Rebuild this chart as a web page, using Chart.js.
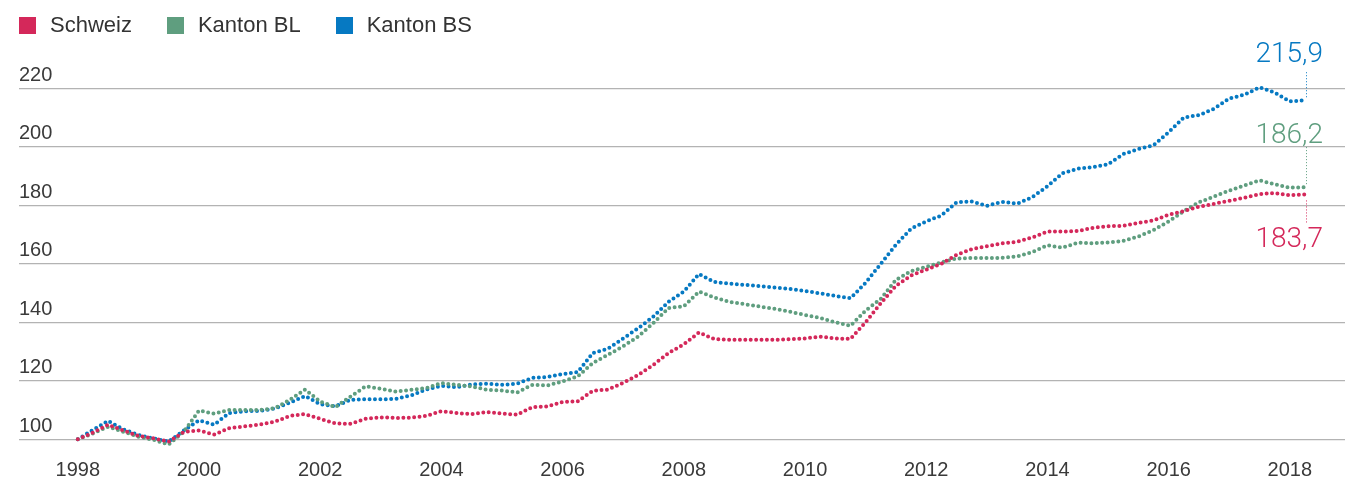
<!DOCTYPE html>
<html>
<head>
<meta charset="utf-8">
<script src="https://cdn.jsdelivr.net/npm/chart.js@4.4.0/dist/chart.umd.min.js"></script>
<style>
  html, body { margin: 0; padding: 0; background: #fff; }
  #wrap { position: relative; width: 1345px; height: 483px; }
  #legend { position: absolute; left: 19px; top: 12px; display: flex;
            font: 22px "Liberation Sans", Arial, sans-serif; color: #333; }
  .item { display: flex; align-items: center; margin-right: 35px; }
  .box { width: 17px; height: 17px; margin-right: 14px; }
</style>
</head>
<body>
<div id="wrap">
  <canvas id="chart" width="1345" height="483"></canvas>
  <div id="legend"></div>
</div>
<script>
// quarterly index values, Q1 1998 = 100, up to Q2 2018
const firstYear = 1998;
const seriesNames = ['Schweiz', 'Kanton BL', 'Kanton BS'];
const seriesColors = ['#d4285a', '#5f9e7f', '#0679c2'];
const endLabels = ['183,7', '186,2', '215,9'];

const schweiz = [
  100.0, 102.3, 105.0, 103.0, 101.2, 100.3, 99.2, 102.5, 103.0, 101.6,
  103.8, 104.4, 105.0, 106.0, 108.0, 108.6, 107.0, 105.4, 105.3, 107.0,
  107.5, 107.3, 107.4, 108.0, 109.6, 109.0, 108.6, 109.3, 108.8, 108.4,
  111.0, 111.2, 112.8, 113.0, 116.6, 117.0, 119.3, 122.0, 125.5, 129.5,
  132.5, 136.5, 134.3, 134.0, 134.0, 134.0, 134.0, 134.2, 134.5, 135.1,
  134.5, 134.3, 140.0, 146.5, 152.5, 156.0, 158.0, 160.0, 163.0, 165.0,
  166.0, 167.0, 167.5, 169.0, 171.0, 171.0, 171.2, 172.3, 172.8, 173.0,
  174.0, 174.8, 176.8, 178.0, 179.5, 180.5, 181.5, 182.6, 183.8, 184.2,
  183.4, 183.7
];
const kantonBL = [
  100.0, 102.0, 104.3, 102.6, 100.9, 99.8, 98.2, 102.6, 109.8, 108.8,
  110.0, 110.0, 110.0, 110.6, 113.5, 117.0, 112.9, 111.0, 114.6, 118.1,
  117.3, 116.3, 116.9, 117.5, 119.2, 118.6, 118.1, 116.9, 116.7, 116.0,
  118.6, 118.4, 119.8, 121.5, 126.1, 128.9, 131.8, 135.2, 139.8, 144.9,
  145.5, 150.5, 148.5, 147.0, 146.2, 145.4, 144.6, 143.6, 142.5, 141.5,
  140.0, 138.8, 144.0, 148.0, 154.5, 157.5, 159.0, 160.5, 161.8, 162.0,
  162.0, 162.0, 162.5, 164.0, 166.3, 165.5, 167.2, 167.0, 167.3, 167.8,
  169.3, 171.5, 174.5, 178.0, 181.0, 183.0, 185.0, 186.8, 188.5, 187.2,
  186.0, 186.2
];
const kantonBS = [
  100.0, 103.2, 106.3, 103.4, 101.5, 100.3, 99.2, 103.0, 106.5, 105.0,
  109.0, 109.6, 109.7, 110.5, 112.5, 114.8, 112.0, 111.3, 113.5, 113.7,
  113.7, 113.8, 115.0, 117.0, 118.3, 117.8, 118.8, 119.0, 118.6, 119.0,
  121.0, 121.3, 122.3, 123.0, 129.5, 131.0, 134.5, 138.0, 142.0, 147.0,
  150.5, 156.5, 153.8, 153.2, 152.8, 152.4, 151.9, 151.4, 150.7, 149.9,
  149.0, 148.2, 153.5, 160.0, 166.5, 172.0, 174.5, 176.5, 181.0, 181.3,
  179.8, 181.2, 180.5, 182.8, 186.5, 191.0, 192.5, 193.0, 194.0, 197.5,
  199.2, 200.5, 205.0, 210.0, 210.8, 213.0, 216.5, 217.8, 220.3, 218.5,
  215.5, 215.9
];

const yearTicks = [1998, 2000, 2002, 2004, 2006, 2008, 2010, 2012, 2014, 2016, 2018];
const valueTicks = [100, 120, 140, 160, 180, 200, 220];

const FONT = '"Liberation Sans", Arial, sans-serif';

// legend
const legendEl = document.getElementById('legend');
seriesNames.forEach((name, i) => {
  const it = document.createElement('div');
  it.className = 'item';
  it.innerHTML = '<div class="box" style="background:' + seriesColors[i] + '"></div><span>' + name + '</span>';
  legendEl.appendChild(it);
});

function toPoints(values) {
  return values.map((v, i) => ({ x: firstYear + i / 4, y: v }));
}

// leader line + last value, relative to the last point
const endStyle = [
  { dir: 1, from: 6, to: 28, text: 53 },
  { dir: -1, from: 3, to: 40, text: 44 },
  { dir: -1, from: 3, to: 30, text: 38 }
];

const endLabelPlugin = {
  id: 'endLabels',
  afterDatasetsDraw(chart) {
    const ctx = chart.ctx;
    chart.data.datasets.forEach((ds, i) => {
      const meta = chart.getDatasetMeta(i);
      const pt = meta.data[meta.data.length - 1];
      const s = endStyle[i];
      const lx = Math.round(pt.x) + 1.5;
      ctx.save();
      ctx.strokeStyle = ds.borderColor;
      ctx.lineWidth = 1;
      ctx.setLineDash([1, 2]);
      ctx.beginPath();
      ctx.moveTo(lx, pt.y + s.dir * s.from);
      ctx.lineTo(lx, pt.y + s.dir * s.to);
      ctx.stroke();
      ctx.setLineDash([]);
      ctx.font = '300 28px Roboto, ' + FONT;
      ctx.fillStyle = ds.borderColor;
      ctx.textAlign = 'right';
      ctx.textBaseline = 'alphabetic';
      ctx.fillText(endLabels[i], pt.x + 18, pt.y + s.dir * s.text);
      ctx.restore();
    });
  }
};

new Chart(document.getElementById('chart'), {
  type: 'line',
  data: {
    datasets: [schweiz, kantonBL, kantonBS].map((vals, i) => ({
      label: seriesNames[i],
      data: toPoints(vals),
      borderColor: seriesColors[i],
      backgroundColor: seriesColors[i]
    }))
  },
  options: {
    responsive: false,
    animation: false,
    layout: { padding: { left: 19, right: 0, top: 59, bottom: -6 } },
    plugins: { legend: { display: false }, tooltip: { enabled: false } },
    elements: {
      point: { radius: 0, hoverRadius: 0 },
      line: { borderWidth: 4, borderDash: [0, 5.4], borderCapStyle: 'round', tension: 0, fill: false }
    },
    scales: {
      x: {
        type: 'linear',
        min: 1997.03,
        max: 2018.91,
        grid: { display: false, drawTicks: false },
        border: { display: false },
        afterBuildTicks: s => { s.ticks = yearTicks.map(v => ({ value: v })); },
        ticks: {
          font: { family: FONT, size: 20, lineHeight: 1.9 },
          color: '#3a3a3a',
          padding: 0,
          maxRotation: 0,
          autoSkip: false,
          callback: v => String(v)
        }
      },
      y: {
        min: 96,
        max: 230,
        grid: { color: '#b3b3b3', lineWidth: 1.3, drawTicks: false },
        border: { display: false },
        afterBuildTicks: s => { s.ticks = valueTicks.map(v => ({ value: v })); },
        ticks: {
          mirror: true,
          padding: 0,
          labelOffset: -13,
          font: { family: FONT, size: 20 },
          color: '#3a3a3a',
          callback: v => String(v)
        }
      }
    }
  },
  plugins: [endLabelPlugin]
});
</script>
</body>
</html>
